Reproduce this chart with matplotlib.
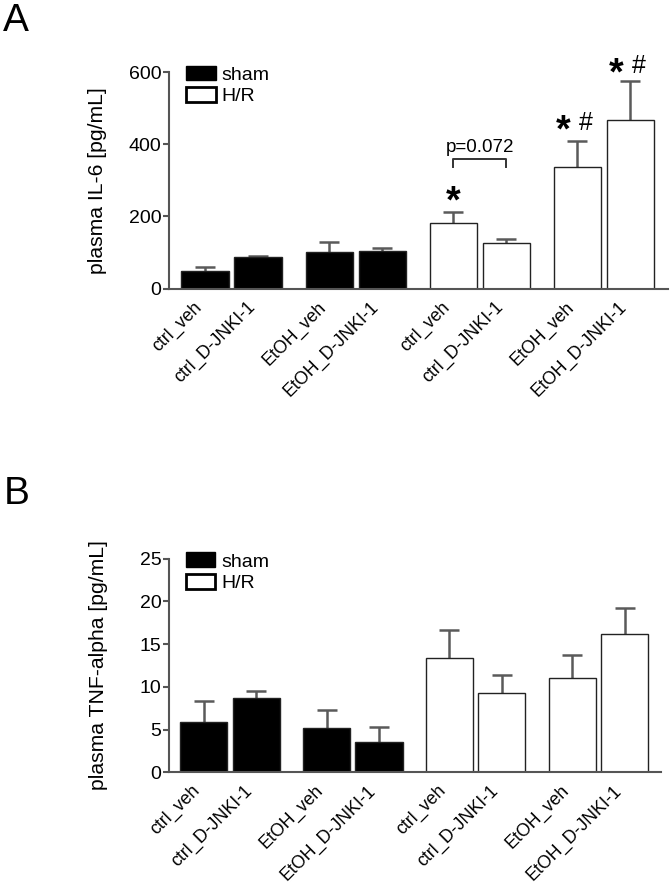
import numpy as np
import matplotlib
matplotlib.use("Agg")
import matplotlib.pyplot as plt
from matplotlib.patches import Patch

plt.rcParams['font.family'] = ['Liberation Sans', 'DejaVu Sans']
plt.rcParams['font.size'] = 13
plt.rcParams['axes.linewidth'] = 1.5
plt.rcParams['axes.edgecolor'] = '#555555'

# data
groups = ["ctrl_veh", "ctrl_D-JNKI-1", "EtOH_veh", "EtOH_D-JNKI-1"]
tick_labels = groups + groups

il6_sham = [50, 88, 102, 105]
il6_sham_err = [11, 3, 27, 8]
il6_hr = [181, 127, 337, 468]
il6_hr_err = [31, 11, 73, 106]

tnf_sham = [5.9, 8.7, 5.23, 3.55]
tnf_sham_err = [2.41, 0.82, 2.07, 1.8]
tnf_hr = [13.38, 9.29, 11.04, 16.16]
tnf_hr_err = [3.28, 2.06, 2.69, 3.08]

il6_ticks = [0, 200, 400, 600]
tnf_ticks = [0, 5, 10, 15, 20, 25]

# bar positions: pairs with a wider gap between them
n = len(tick_labels)
pos = np.arange(n) + 0.34 * (np.arange(n) // 2)
width = 0.9

fig = plt.figure(figsize=(6.71, 8.84), dpi=100)
axA = fig.add_axes([0.2519, 0.6734, 0.7437, 0.2451])
axB = fig.add_axes([0.2519, 0.1264, 0.7328, 0.2415])


def draw_panel(ax, sham, sham_err, hr, hr_err, ticks, ylabel, xlim):
    vals = list(sham) + list(hr)
    errs = list(sham_err) + list(hr_err)
    colors = ['black'] * len(sham) + ['white'] * len(hr)
    bars = ax.bar(pos, vals, width=width, color=colors, edgecolor='#222222',
                  linewidth=1.0, zorder=2,
                  yerr=[np.zeros(len(errs)), errs],
                  error_kw=dict(ecolor='#5a5a5a', elinewidth=1.8, capsize=7.5,
                                capthick=1.8, zorder=1))
    # keep only upper caps
    caps = bars.errorbar.lines[1]
    if len(caps) > 1:
        caps[0].set_visible(False)

    ax.set_ylim(ticks[0], ticks[-1])
    ax.set_yticks(ticks)
    ax.set_xlim(*xlim)
    ax.set_xticks(pos)
    ax.set_xticklabels(tick_labels, rotation=45, ha='right', va='top', fontsize=12.8)
    ax.tick_params(axis='x', length=0, pad=7)
    ax.tick_params(axis='y', length=4, width=1.5, color='#555555', pad=1.5, labelsize=14)
    ax.spines['top'].set_visible(False)
    ax.spines['right'].set_visible(False)
    ax.set_ylabel(ylabel, fontsize=15.2)
    ax.yaxis.set_label_coords(-0.124, 0.5)

    handles = [Patch(facecolor='black', edgecolor='black', label='sham'),
               Patch(facecolor='white', edgecolor='black', linewidth=2, label='H/R')]
    ax.legend(handles=handles, loc='upper left', bbox_to_anchor=(0.035, 1.03),
              frameon=False, fontsize=14, handlelength=1.5, handleheight=0.8,
              handletextpad=0.3, labelspacing=0.18, borderpad=0, borderaxespad=0)


draw_panel(axA, il6_sham, il6_sham_err, il6_hr, il6_hr_err, il6_ticks,
           "plasma IL-6 [pg/mL]", (-0.685, 8.73))
draw_panel(axB, tnf_sham, tnf_sham_err, tnf_hr, tnf_hr_err, tnf_ticks,
           "plasma TNF-alpha [pg/mL]", (-0.66, 8.706))

# significance marks in panel A (y = centre of the mark)
star_y = [268, 466, 623]
star_bars = [4, 6, 7]
with_hash = [False, True, True]
for b, y, h in zip(star_bars, star_y, with_hash):
    dx = -10 if h else 0
    axA.annotate("*", (pos[b], y), xytext=(dx, -15), textcoords='offset points',
                 fontsize=27, fontweight='bold', ha='center', va='baseline',
                 annotation_clip=False)
    if h:
        axA.annotate("#", (pos[b], y), xytext=(6, -7), textcoords='offset points',
                     fontsize=18, ha='center', va='baseline', annotation_clip=False)

# bracket between ctrl_veh and ctrl_D-JNKI-1 (H/R)
bx = [pos[4], pos[4], pos[5], pos[5]]
by = [336, 358, 358, 336]
axA.plot(bx, by, color='#333333', lw=1.4)
axA.text((pos[4] + pos[5]) / 2, 391, "p=0.072", fontsize=13.5, ha='center', va='center')

fig.text(0.004, 0.997, "A", fontsize=28, va='top', ha='left')
fig.text(0.006, 0.462, "B", fontsize=28, va='top', ha='left')

fig.savefig("out.png", dpi=100)
